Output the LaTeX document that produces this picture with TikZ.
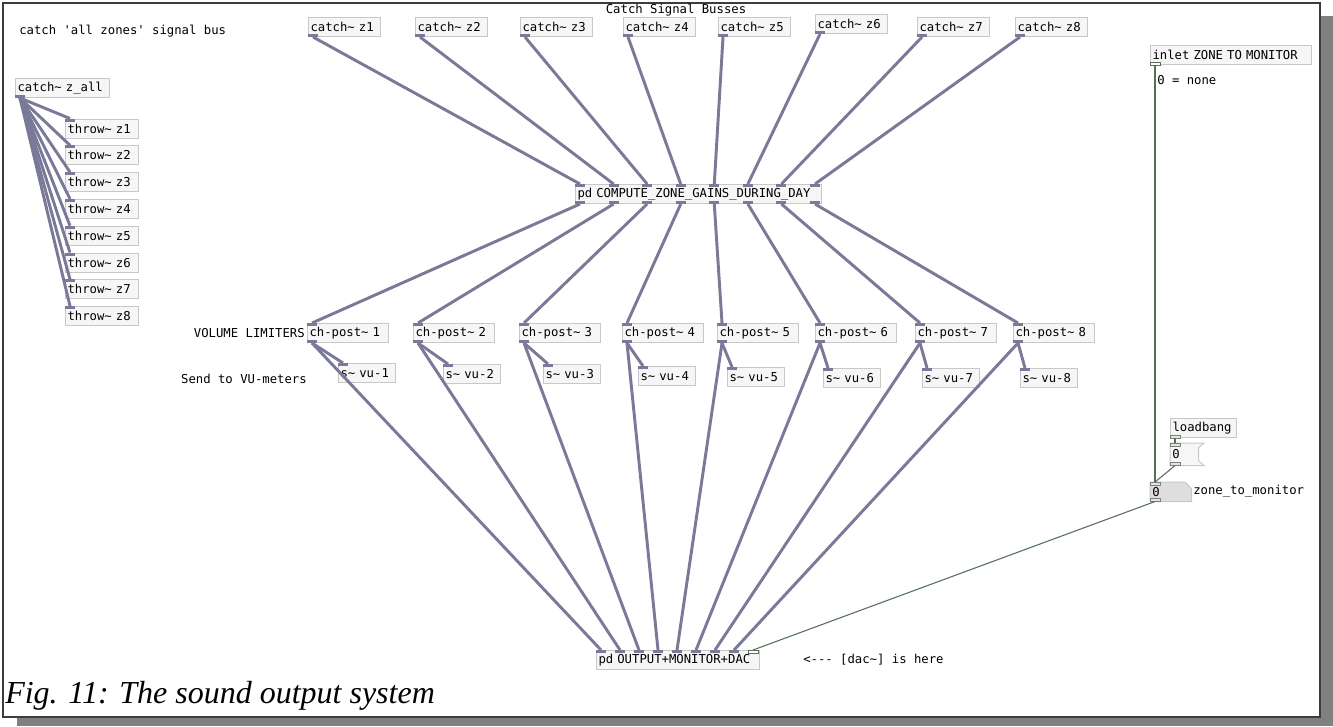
\documentclass[tikz,border=0pt]{standalone}
\usepackage{fontspec}
\setmonofont{DejaVu Sans Mono}
\newfontfamily\captionserif{Liberation Serif}
\usetikzlibrary{calc}

\pgfdeclarelayer{sheet}
\pgfdeclarelayer{shapes}
\pgfsetlayers{sheet,shapes,main}

\definecolor{sigcol}{RGB}{122,122,152}
\definecolor{ctlcol}{RGB}{86,112,86}
\definecolor{boxedge}{RGB}{200,200,200}
\definecolor{boxfill}{RGB}{246,246,246}
\definecolor{numfill}{RGB}{222,222,222}
\definecolor{nubedge}{RGB}{120,130,120}
\definecolor{nubfill}{RGB}{225,228,225}
\definecolor{shadowcol}{RGB}{128,128,128}
\definecolor{framecol}{RGB}{60,60,60}

\tikzset{
  pdfont/.style={font=\ttfamily\fontsize{9.2}{10}\selectfont},
  pdbox/.style={pdfont, draw=boxedge, fill=boxfill, line width=0.75pt,
    anchor=north west, inner xsep=1.5pt, inner ysep=0pt,
    minimum height=14.25pt, align=left},
  pdbare/.style={pdfont, anchor=north west, inner xsep=1.5pt, inner ysep=0pt,
    align=left},
  note/.style={pdfont, inner sep=0pt},
  sigwire/.style={draw=sigcol, line width=2.2pt},
  ctlwire/.style={draw=ctlcol, line width=0.8pt},
  signub/.style={fill=sigcol},
  ctlnub/.style={draw=nubedge, fill=nubfill, line width=0.6pt},
  greennub/.style={draw=ctlcol, fill=white, line width=0.6pt},
}

% object box: [style]{name}{x}{y}{width px}{text}
\newcommand\pdobj[6][pdbox]{%
  \pgfmathsetmacro\pdtw{(#5-3)*0.75}%
  \node[#1, text width=\pdtw pt] (#2) at (#3,#4) {#6};}

% inlet / outlet nubs: {node}{index}{count}{width px}{nub style}
\newcommand\pdin[5]{%
  \pgfmathsetmacro\pofs{(#2-1)*(#4-10)/max(#3-1,1)}%
  \path[#5] ([xshift=\pofs*0.75pt]#1.north west) rectangle ++(10,3);%
  \coordinate (#1-i#2) at ([xshift=\pofs*0.75pt+3.75pt]#1.north west);}
\newcommand\pdout[5]{%
  \pgfmathsetmacro\pofs{(#2-1)*(#4-10)/max(#3-1,1)}%
  \path[#5] ([xshift=\pofs*0.75pt]#1.south west) rectangle ++(10,-3);%
  \coordinate (#1-o#2) at ([xshift=\pofs*0.75pt+3.75pt]#1.south west);}

\begin{document}
\begin{tikzpicture}[x=0.75pt,y=-0.75pt]
\useasboundingbox (0,0) rectangle (1333,726);

% page with drop shadow
\begin{pgfonlayer}{sheet}
  \fill[shadowcol] (17,16) rectangle (1333,726);
  \filldraw[fill=white, draw=framecol, line width=0.9pt] (3,3) rectangle (1320,717);
\end{pgfonlayer}

% comments
\node[note] (busnote) at (676,10) {Catch Signal Busses};
\node[note, anchor=west] (allnote) at (19,31) {catch 'all zones' signal bus};
\node[note, anchor=east] (vollim) at (305,333) {VOLUME LIMITERS};
\node[note, anchor=east] (vunote) at (307,379) {Send to VU-meters};
\node[note, anchor=west] (nonenote) at (1157,80) {0 = none};
\node[note, anchor=west] (dacnote) at (803,660) {<--- [dac\textasciitilde] is here};

% 'all zones' bus split into the eight zone busses
\pdobj{zall}{15}{78}{93}{catch\textasciitilde\ z\_all}
\pdout{zall}{1}{1}{93}{signub}
\foreach \k in {1,...,8} {
  \pgfmathsetmacro\ty{118.5+26.8*(\k-1)}
  \pdobj{t\k}{65}{\ty}{72}{throw\textasciitilde\ z\k}
  \pdin{t\k}{1}{1}{72}{signub}
}

% zone busses
\foreach \k/\cx/\cy in {1/308/17,2/415/17,3/520/17,4/623/17,5/718/17,6/815/14,7/917/17,8/1015/17} {
  \pdobj{c\k}{\cx}{\cy}{71}{catch\textasciitilde\ z\k}
  \pdout{c\k}{1}{1}{71}{signub}
}

% gain computation
\pdobj{gains}{575}{184}{245}{pd COMPUTE\_ZONE\_GAINS\_DURING\_DAY}
\foreach \k in {1,...,8} {
  \pdin{gains}{\k}{8}{245}{signub}
  \pdout{gains}{\k}{8}{245}{signub}
}

% volume limiters
\foreach \k/\cx in {1/307,2/413,3/519,4/622,5/717,6/815,7/915,8/1013} {
  \pdobj{ch\k}{\cx}{323}{80}{ch-post\textasciitilde\ \k}
  \pdin{ch\k}{1}{1}{80}{signub}
  \pdout{ch\k}{1}{1}{80}{signub}
}

% VU-meter sends
\foreach \k/\cx/\cy in {1/338/363,2/443/364,3/543/364,4/638/366,5/727/367,6/823/368,7/922/368,8/1020/368} {
  \pdobj{vu\k}{\cx}{\cy}{56}{s\textasciitilde\ vu-\k}
  \pdin{vu\k}{1}{1}{56}{signub}
}

% output stage
\pdobj{out}{596}{650}{162}{pd OUTPUT+MONITOR+DAC}
\foreach \k in {1,...,8} {\pdin{out}{\k}{9}{162}{signub}}
\pdin{out}{9}{9}{162}{greennub}

% monitor zone selection
\pdobj{zin}{1150}{45}{160}{inlet ZONE TO MONITOR}
\pdout{zin}{1}{1}{160}{greennub}
\pdobj{lb}{1170}{418}{65}{loadbang}
\pdout{lb}{1}{1}{65}{ctlnub}
\pdobj[pdbare, minimum height=16.5pt]{msg}{1170}{443}{27}{0}
\pdobj[pdbare, minimum height=14.25pt]{zmon}{1150}{482}{40}{0}
\node[note, anchor=west] (zlabel) at (1193,491) {zone\_to\_monitor};
\begin{pgfonlayer}{shapes}
  \filldraw[fill=boxfill, draw=boxedge, line width=0.75pt]
    (msg.north west) -- ([xshift=4pt]msg.north east) -- ([yshift=-3.5pt]msg.north east)
    -- ([yshift=3.5pt]msg.south east) -- ([xshift=4pt]msg.south east) -- (msg.south west) -- cycle;
  \filldraw[fill=numfill, draw=boxedge, line width=0.75pt]
    (zmon.north west) -- ([xshift=-5pt]zmon.north east) -- ([yshift=-5pt]zmon.north east)
    -- (zmon.south east) -- (zmon.south west) -- cycle;
\end{pgfonlayer}
\pdin{msg}{1}{1}{27}{ctlnub}
\pdout{msg}{1}{1}{27}{ctlnub}
\pdin{zmon}{1}{1}{40}{ctlnub}
\pdout{zmon}{1}{1}{40}{ctlnub}

% signal connections
\foreach \k in {1,...,8} {
  \draw[sigwire] (zall-o1) -- (t\k-i1);
  \draw[sigwire] (c\k-o1) -- (gains-i\k);
  \draw[sigwire] (gains-o\k) -- (ch\k-i1);
  \draw[sigwire] (ch\k-o1) -- (vu\k-i1);
  \draw[sigwire] (ch\k-o1) -- (out-i\k);
}

% control connections
\draw[ctlwire] (zin-o1) -- (zmon-i1);
\draw[ctlwire] (lb-o1) -- (msg-i1);
\draw[ctlwire] (msg-o1) -- (zmon-i1);
\draw[ctlwire] (zmon-o1) -- (out-i9);

% caption
\node[anchor=base west, inner sep=0pt, font=\captionserif\itshape\fontsize{24}{28}\selectfont]
  (caption) at (5,703) {Fig. 11: The sound output system};
\end{tikzpicture}
\end{document}
